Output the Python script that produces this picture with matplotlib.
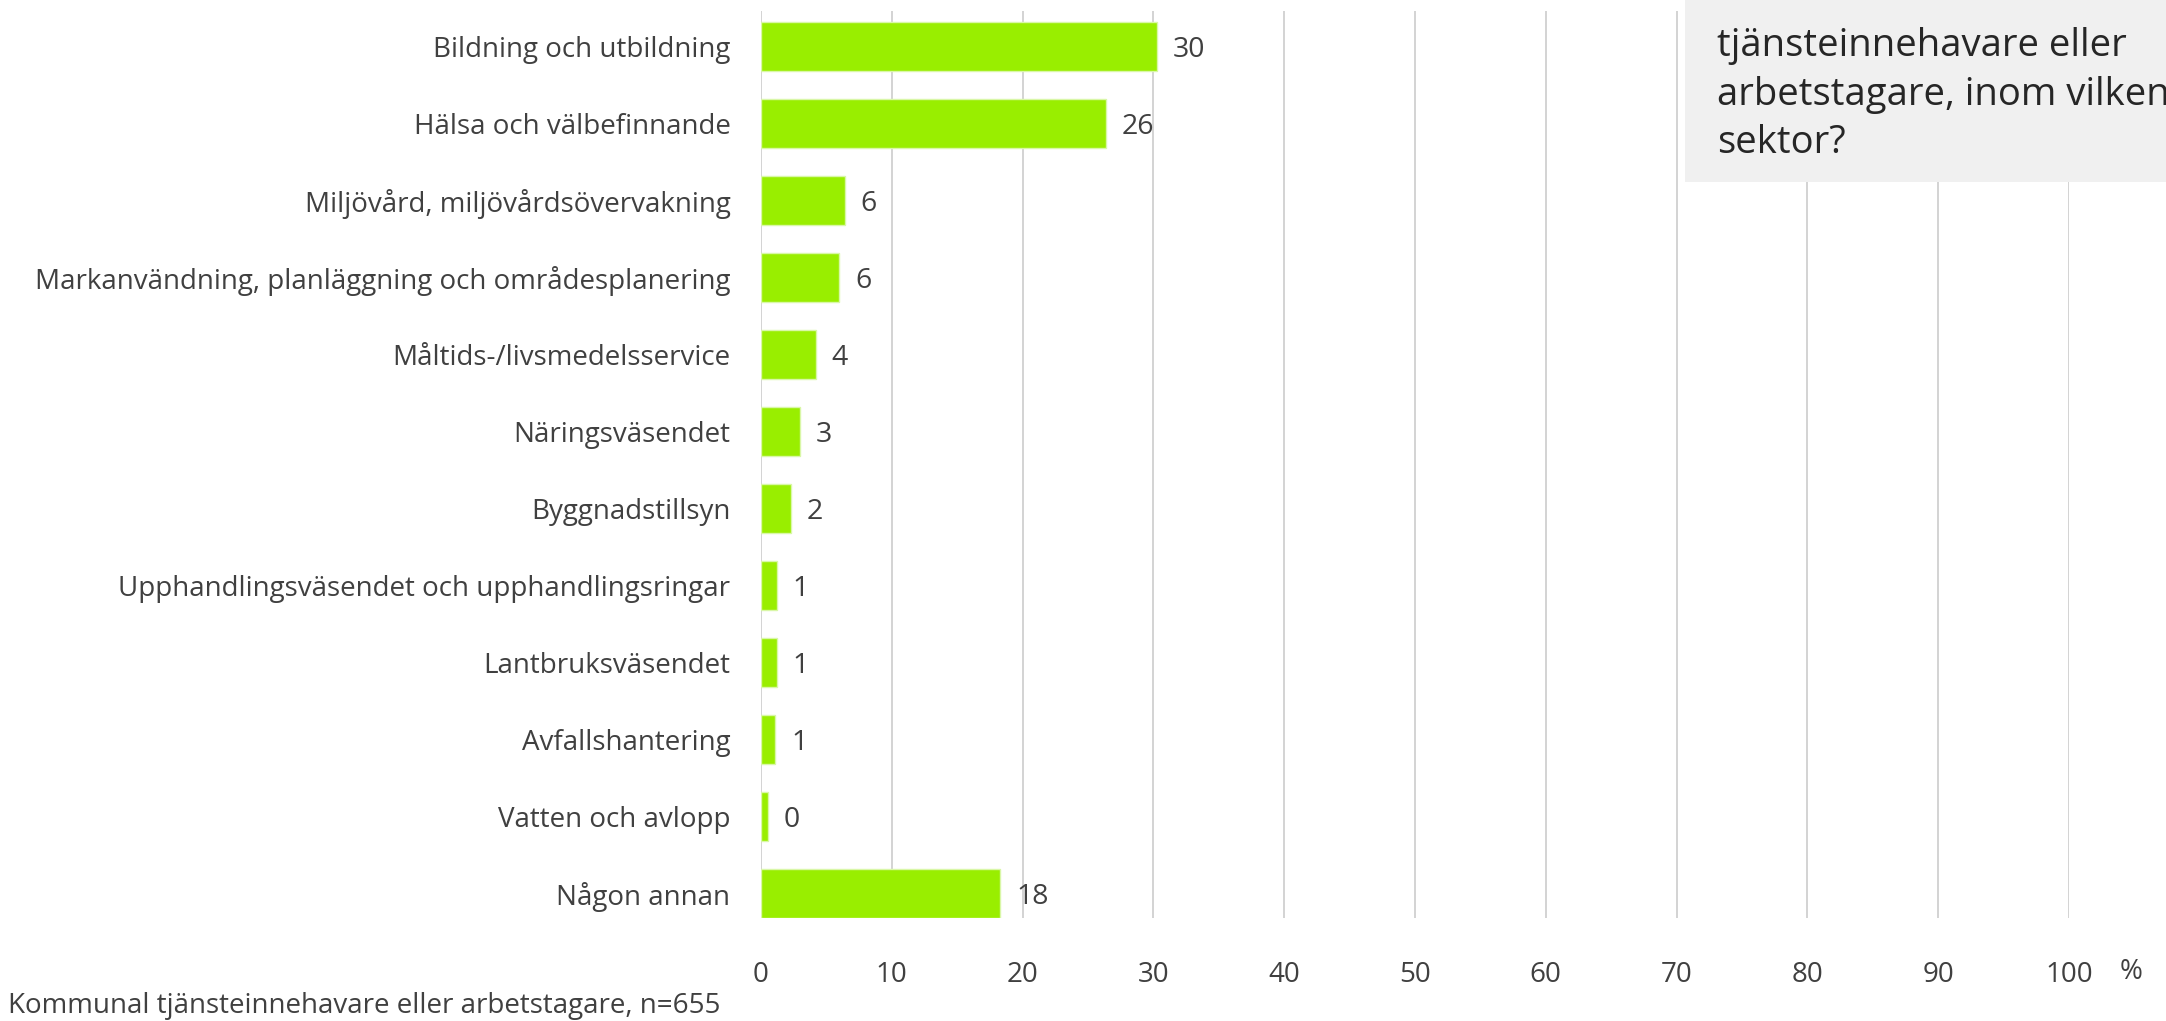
import matplotlib
matplotlib.use("Agg")
import matplotlib.pyplot as plt
from matplotlib.patches import Rectangle

categories = [
    "Bildning och utbildning",
    "Hälsa och välbefinnande",
    "Miljövård, miljövårdsövervakning",
    "Markanvändning, planläggning och områdesplanering",
    "Måltids-/livsmedelsservice",
    "Näringsväsendet",
    "Byggnadstillsyn",
    "Upphandlingsväsendet och upphandlingsringar",
    "Lantbruksväsendet",
    "Avfallshantering",
    "Vatten och avlopp",
    "Någon annan",
]
values = [30.3, 26.4, 6.4, 6.0, 4.2, 3.0, 2.3, 1.2, 1.2, 1.1, 0.5, 18.3]
labels = ["30", "26", "6", "6", "4", "3", "2", "1", "1", "1", "0", "18"]
xticks = [0, 10, 20, 30, 40, 50, 60, 70, 80, 90, 100]
title_lines = ["tjänsteinnehavare eller", "arbetstagare, inom vilken", "sektor?"]
footnote = "Kommunal tjänsteinnehavare eller arbetstagare, n=655"

plt.rcParams['font.family'] = ['Open Sans', 'DejaVu Sans']
W, H = 2166, 1021
fig = plt.figure(figsize=(W / 100, H / 100), dpi=100)
left, right = 761 / W, 2069 / W
top, bottom = 1 - 11 / H, 1 - 918 / H
ax = fig.add_axes([left, bottom, right - left, top - bottom])

txt = "#404040"
fs = 20
ypos = list(range(len(categories)))
ax.barh(ypos, values, height=0.63, color="#99EE00", edgecolor="#D9F7A8", linewidth=1, zorder=3)
for y, v, lab in zip(ypos, values, labels):
    ax.text(v + 1.2, y, lab, va="center_baseline", ha="left", fontsize=fs + 0.5, color=txt)

ax.set_xlim(0, 100)
ax.set_ylim(11.32, -0.46)
ax.set_yticks(ypos)
ax.set_yticklabels(categories, fontsize=fs, color=txt)
ax.set_xticks(xticks)
ax.set_xticklabels([str(t) for t in xticks], fontsize=fs, color=txt)
ax.tick_params(axis="both", length=0)
ax.tick_params(axis="y", pad=22)
ax.tick_params(axis="x", pad=31)
ax.grid(axis="x", color="#D0D0D0", linewidth=1.3, zorder=0)
for s in ax.spines.values():
    s.set_visible(False)

fig.text(2131 / W, 1 - 972 / H, "%", fontsize=fs, color=txt, ha="center", va="center")

# title box
fig.patches.append(Rectangle((1685 / W, 1 - 182 / H), 1 - 1685 / W, 182 / H,
                             transform=fig.transFigure, facecolor="#F0F0F0",
                             edgecolor="none", zorder=5))
for i, line in enumerate(title_lines):
    fig.text(1717 / W, 1 - (46 + 48.5 * i) / H, line, fontsize=27.5, color="#262626",
             ha="left", va="center", zorder=6)

fig.text(8 / W, 1 - 1006 / H, footnote, fontsize=fs, color=txt, ha="left", va="center")

fig.savefig("out.png", dpi=100)
